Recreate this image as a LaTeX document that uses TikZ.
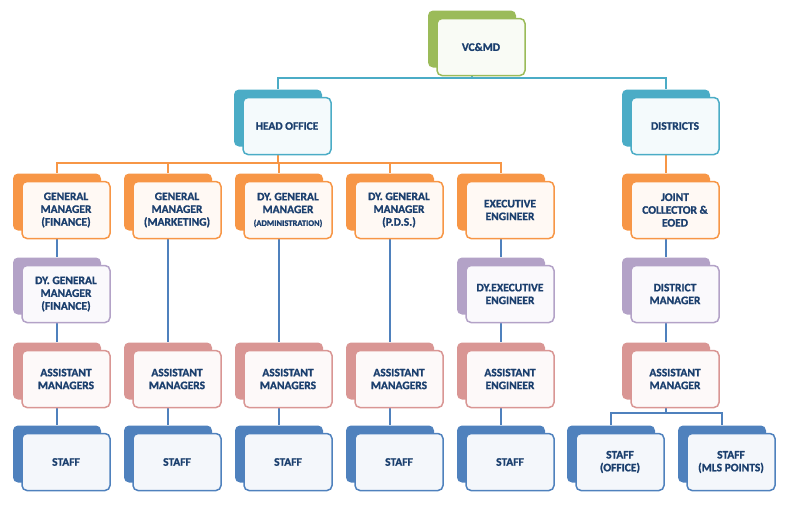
\documentclass[tikz,border=0pt]{standalone}
\usepackage{fontspec}
\setmainfont{Carlito}
\newfontfamily\cardfont{Carlito}[UprightFont={* Bold}, FakeBold=1.2]
\usepackage{tikz}
\usetikzlibrary{backgrounds, positioning}

\definecolor{vcgreen}{HTML}{9BBB59}
\definecolor{aquac}{HTML}{4BACC6}
\definecolor{orangec}{HTML}{F79646}
\definecolor{lilac}{HTML}{B3A2C7}
\definecolor{rosec}{HTML}{D99694}
\definecolor{staffblue}{HTML}{4F81BD}
\definecolor{navyc}{HTML}{1B3F6E}

\tikzset{
  cardback/.style={rounded corners=5pt, minimum width=88pt, minimum height=57pt, inner sep=0pt, fill=#1},
  cardfront/.style={rounded corners=5pt, minimum width=88pt, minimum height=57pt, inner sep=1pt,
    draw=#1, line width=1.5pt, fill=#1!6!white, text=navyc, align=center,
    font=\cardfont\fontsize{11.5}{12.8}\selectfont},
  link/.style={line width=1.5pt, draw=#1}
}

\begin{document}
\begin{tikzpicture}[x=1pt, y=-1pt]
  \useasboundingbox (0,0) rectangle (792,509);

  % top
  \node[cardback=vcgreen] (vcmd) at (472,39) {};
  \node[cardfront=vcgreen] (vcmd-t) at ([shift={(9,8)}]vcmd) {VC\&MD};

  \node[cardback=aquac] (head) at (278,118) {};
  \node[cardfront=aquac] (head-t) at ([shift={(9,8)}]head) {HEAD OFFICE};
  \node[cardback=aquac] (dist) at (666,118) {};
  \node[cardfront=aquac] (dist-t) at ([shift={(9,8)}]dist) {DISTRICTS};

  % managers
  \node[cardback=orangec] (gmfin) at (57,202) {};
  \node[cardfront=orangec] (gmfin-t) at ([shift={(9,8)}]gmfin) {GENERAL\\MANAGER\\(FINANCE)};
  \node[cardback=orangec] (gmmkt) at (168,202) {};
  \node[cardfront=orangec] (gmmkt-t) at ([shift={(9,8)}]gmmkt) {GENERAL\\MANAGER\\(MARKETING)};
  \node[cardback=orangec] (dgmadm) at (279,202) {};
  \node[cardfront=orangec] (dgmadm-t) at ([shift={(9,8)}]dgmadm) {DY. GENERAL\\MANAGER\\{\fontsize{8.5}{10}\selectfont(ADMINISTRATION)}};
  \node[cardback=orangec] (dgmpds) at (390,202) {};
  \node[cardfront=orangec] (dgmpds-t) at ([shift={(9,8)}]dgmpds) {DY. GENERAL\\MANAGER\\(P.D.S.)};
  \node[cardback=orangec] (exeng) at (501,202) {};
  \node[cardfront=orangec] (exeng-t) at ([shift={(9,8)}]exeng) {EXECUTIVE\\ENGINEER};
  \node[cardback=orangec] (jcoll) at (666,202) {};
  \node[cardfront=orangec] (jcoll-t) at ([shift={(9,8)}]jcoll) {JOINT\\COLLECTOR \&\\EOED};

  % deputies
  \node[cardback=lilac] (dgmfin) at (57,286) {};
  \node[cardfront=lilac] (dgmfin-t) at ([shift={(9,8)}]dgmfin) {DY. GENERAL\\MANAGER\\(FINANCE)};
  \node[cardback=lilac] (dyexeng) at (501,286) {};
  \node[cardfront=lilac] (dyexeng-t) at ([shift={(9,8)}]dyexeng) {DY.EXECUTIVE\\ENGINEER};
  \node[cardback=lilac] (dman) at (666,286) {};
  \node[cardfront=lilac] (dman-t) at ([shift={(9,8)}]dman) {DISTRICT\\MANAGER};

  % assistants
  \node[cardback=rosec] (asst1) at (57,371) {};
  \node[cardfront=rosec] (asst1-t) at ([shift={(9,8)}]asst1) {ASSISTANT\\MANAGERS};
  \node[cardback=rosec] (asst2) at (168,371) {};
  \node[cardfront=rosec] (asst2-t) at ([shift={(9,8)}]asst2) {ASSISTANT\\MANAGERS};
  \node[cardback=rosec] (asst3) at (279,371) {};
  \node[cardfront=rosec] (asst3-t) at ([shift={(9,8)}]asst3) {ASSISTANT\\MANAGERS};
  \node[cardback=rosec] (asst4) at (390,371) {};
  \node[cardfront=rosec] (asst4-t) at ([shift={(9,8)}]asst4) {ASSISTANT\\MANAGERS};
  \node[cardback=rosec] (asst5) at (501,371) {};
  \node[cardfront=rosec] (asst5-t) at ([shift={(9,8)}]asst5) {ASSISTANT\\ENGINEER};
  \node[cardback=rosec] (asst6) at (666,371) {};
  \node[cardfront=rosec] (asst6-t) at ([shift={(9,8)}]asst6) {ASSISTANT\\MANAGER};

  % staff
  \node[cardback=staffblue] (staff1) at (57,454) {};
  \node[cardfront=staffblue] (staff1-t) at ([shift={(9,8)}]staff1) {STAFF};
  \node[cardback=staffblue] (staff2) at (168,454) {};
  \node[cardfront=staffblue] (staff2-t) at ([shift={(9,8)}]staff2) {STAFF};
  \node[cardback=staffblue] (staff3) at (279,454) {};
  \node[cardfront=staffblue] (staff3-t) at ([shift={(9,8)}]staff3) {STAFF};
  \node[cardback=staffblue] (staff4) at (390,454) {};
  \node[cardfront=staffblue] (staff4-t) at ([shift={(9,8)}]staff4) {STAFF};
  \node[cardback=staffblue] (staff5) at (501,454) {};
  \node[cardfront=staffblue] (staff5-t) at ([shift={(9,8)}]staff5) {STAFF};
  \node[cardback=staffblue] (staffoff) at (611,454) {};
  \node[cardfront=staffblue] (staffoff-t) at ([shift={(9,8)}]staffoff) {STAFF\\(OFFICE)};
  \node[cardback=staffblue] (staffmls) at (722,454) {};
  \node[cardfront=staffblue] (staffmls-t) at ([shift={(9,8)}]staffmls) {STAFF\\(MLS POINTS)};

  \coordinate (topbus) at (0,78);
  \coordinate (midbus) at (0,163);
  \coordinate (lowbus) at (0,413);

  \begin{scope}[on background layer]
    \draw[link=aquac] (vcmd) -- (vcmd |- topbus) -| (head);
    \draw[link=aquac] (vcmd |- topbus) -| (dist);
    \draw[link=orangec] (head) -- (head |- midbus) -| (gmfin);
    \draw[link=orangec] (head |- midbus) -| (gmmkt);
    \draw[link=orangec] (head |- midbus) -| (dgmadm);
    \draw[link=orangec] (head |- midbus) -| (dgmpds);
    \draw[link=orangec] (head |- midbus) -| (exeng);
    \draw[link=orangec] (dist) -- (jcoll);
    \draw[link=staffblue] (gmfin) -- (dgmfin) -- (asst1) -- (staff1);
    \draw[link=staffblue] (gmmkt) -- (asst2) -- (staff2);
    \draw[link=staffblue] (dgmadm) -- (asst3) -- (staff3);
    \draw[link=staffblue] (dgmpds) -- (asst4) -- (staff4);
    \draw[link=staffblue] (exeng) -- (dyexeng) -- (asst5) -- (staff5);
    \draw[link=staffblue] (jcoll) -- (dman) -- (asst6);
    \draw[link=staffblue] (asst6) -- (asst6 |- lowbus) -| (staffoff);
    \draw[link=staffblue] (asst6 |- lowbus) -| (staffmls);
  \end{scope}
\end{tikzpicture}
\end{document}
